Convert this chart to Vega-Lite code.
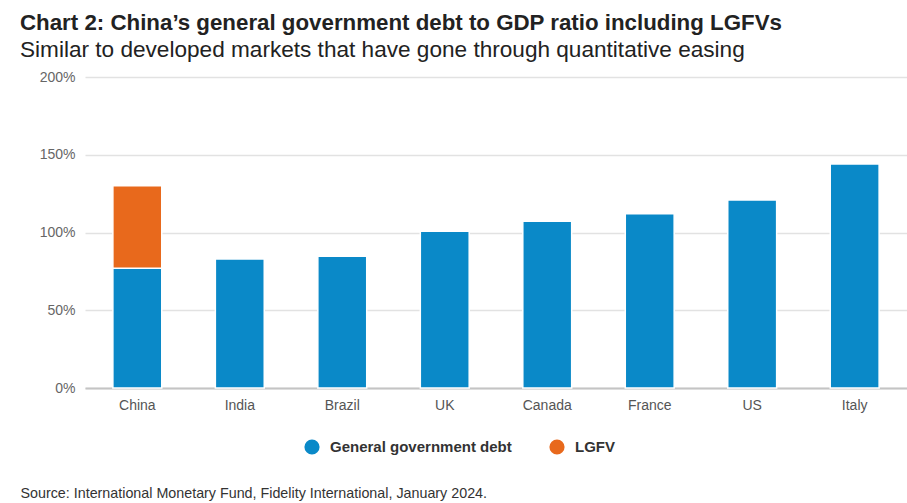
{
  "$schema": "https://vega.github.io/schema/vega-lite/v6.json",
  "autosize": "none",
  "width": 822,
  "height": 311,
  "padding": {"left": 85, "top": 77, "right": 0, "bottom": 115},
  "background": "white",
  "title": {
    "text": "Chart 2: China’s general government debt to GDP ratio including LGFVs",
    "subtitle": "Similar to developed markets that have gone through quantitative easing",
    "anchor": "start",
    "frame": "group",
    "dx": -65,
    "offset": 8,
    "font": "Liberation Sans",
    "fontSize": 22.3,
    "fontWeight": "bold",
    "color": "#222222",
    "subtitleFont": "Liberation Sans",
    "subtitleFontSize": 22.6,
    "subtitleColor": "#222222",
    "subtitlePadding": 5
  },
  "data": {
    "values": [
      {"country": "China", "series": "General government debt", "value": 77},
      {"country": "China", "series": "LGFV", "value": 53},
      {"country": "India", "series": "General government debt", "value": 83},
      {"country": "Brazil", "series": "General government debt", "value": 84.7},
      {"country": "UK", "series": "General government debt", "value": 100.8},
      {"country": "Canada", "series": "General government debt", "value": 107.2},
      {"country": "France", "series": "General government debt", "value": 112.1},
      {"country": "US", "series": "General government debt", "value": 120.9},
      {"country": "Italy", "series": "General government debt", "value": 144.1}
    ]
  },
  "mark": {"type": "bar", "stroke": "white", "strokeWidth": 1.5},
  "encoding": {
    "x": {
      "field": "country",
      "type": "nominal",
      "sort": ["China", "India", "Brazil", "UK", "Canada", "France", "US", "Italy"],
      "scale": {"paddingInner": 0.523, "paddingOuter": 0.272},
      "axis": {
        "labelAngle": 0,
        "labelFont": "Liberation Sans",
        "labelFontSize": 14,
        "labelColor": "#555555",
        "labelPadding": 10,
        "ticks": false,
        "domainColor": "#c4c4c4",
        "domainWidth": 2,
        "title": "Source: International Monetary Fund, Fidelity International, January 2024.",
        "titleFont": "Liberation Sans",
        "titleFontSize": 14.3,
        "titleFontWeight": "normal",
        "titleColor": "#333333",
        "titleAnchor": "start",
        "titleAlign": "left",
        "titleBaseline": "alphabetic",
        "titleX": -65,
        "titleY": 109,
        "titleLimit": 900
      }
    },
    "y": {
      "field": "value",
      "type": "quantitative",
      "stack": "zero",
      "scale": {"domain": [0, 200]},
      "axis": {
        "values": [0, 50, 100, 150, 200],
        "labelExpr": "datum.value + '%'",
        "labelFont": "Liberation Sans",
        "labelFontSize": 14,
        "labelColor": "#666666",
        "labelPadding": 10,
        "domain": false,
        "ticks": false,
        "gridColor": "#e2e2e2",
        "gridWidth": 1.5,
        "title": null
      }
    },
    "color": {
      "field": "series",
      "type": "nominal",
      "scale": {"domain": ["General government debt", "LGFV"], "range": ["#0a89c8", "#e8691c"]},
      "legend": {
        "title": null,
        "orient": "none",
        "direction": "horizontal",
        "legendX": 219,
        "legendY": 362,
        "symbolType": "circle",
        "symbolSize": 230,
        "symbolStrokeWidth": 0,
        "labelFont": "Liberation Sans",
        "labelFontSize": 15,
        "labelFontWeight": "bold",
        "labelColor": "#333333",
        "labelOffset": 10,
        "labelLimit": 400,
        "columnPadding": 37
      }
    },
    "order": {"field": "series", "sort": "ascending"}
  },
  "config": {"view": {"stroke": null}}
}
